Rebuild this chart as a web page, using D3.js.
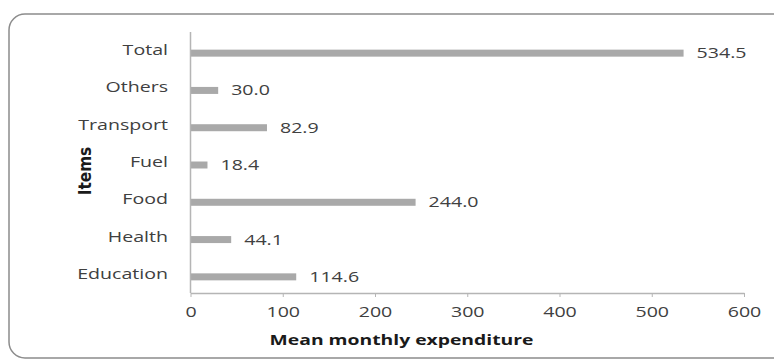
<!DOCTYPE html>
<html>
<head>
<meta charset="utf-8">
<script src="https://cdn.jsdelivr.net/npm/d3@7"></script>
<style>
  body { margin: 0; background: #fff; }
  svg text { font-family: "Open Sans", "DejaVu Sans", sans-serif; fill: #404040; }
</style>
</head>
<body>
<div id="chart"></div>
<script>
var items = ["Education", "Health", "Food", "Fuel", "Transport", "Others", "Total"];
var expenditure = [114.6, 44.1, 244.0, 18.4, 82.9, 30.0, 534.5];
var xTicks = [0, 100, 200, 300, 400, 500, 600];

var width = 774, height = 360;
var plotLeft = 190.5, plotRight = 744, plotTop = 32, plotBottom = 293;
var stretch = 1.4; // the source picture is widened horizontally

var svg = d3.select("#chart").append("svg")
    .attr("width", width)
    .attr("height", height);

// frame
svg.append("rect")
    .attr("x", 9).attr("y", 14)
    .attr("width", 780).attr("height", 344)
    .attr("rx", 16).attr("ry", 16)
    .attr("fill", "none")
    .attr("stroke", "#8c8c8c")
    .attr("stroke-width", 1.5);

var xScale = d3.scaleLinear().domain([0, 600]).range([plotLeft, plotRight]);
var yScale = d3.scaleBand().domain(items.slice().reverse()).range([plotTop + 2.5, plotBottom + 2.5]);

var rows = items.map((d, i) => ({ item: d, value: expenditure[i] }));

svg.selectAll(".bar")
    .data(rows)
    .enter()
    .append("rect")
    .attr("class", "bar")
    .attr("x", xScale(0))
    .attr("y", d => yScale(d.item) + yScale.bandwidth() / 2 - 3.5)
    .attr("width", d => xScale(d.value) - xScale(0))
    .attr("height", 7)
    .attr("fill", "#a9a9a9");

svg.selectAll(".value")
    .data(rows)
    .enter()
    .append("text")
    .attr("class", "value")
    .attr("transform", d => `translate(${xScale(d.value) + 13}, ${yScale(d.item) + yScale.bandwidth() / 2}) scale(${stretch}, 1)`)
    .attr("dy", "0.36em")
    .attr("font-size", 14)
    .text(d => d.value.toFixed(1));

// category labels
svg.selectAll(".cat")
    .data(items)
    .enter()
    .append("text")
    .attr("class", "cat")
    .attr("transform", d => `translate(168, ${yScale(d) + yScale.bandwidth() / 2 - 3}) scale(${stretch}, 1)`)
    .attr("dy", "0.36em")
    .attr("text-anchor", "end")
    .attr("font-size", 14)
    .text(d => d);

// y axis line
svg.append("line")
    .attr("x1", plotLeft).attr("x2", plotLeft)
    .attr("y1", plotTop).attr("y2", plotBottom)
    .attr("stroke", "#b5b5b5")
    .attr("stroke-width", 1.5);

// x axis
var xAxis = d3.axisBottom(xScale).tickValues(xTicks).tickSize(4).tickSizeOuter(0).tickPadding(10);
var gx = svg.append("g")
    .attr("transform", `translate(0, ${plotBottom})`)
    .call(xAxis);
gx.select(".domain").attr("stroke", "#b5b5b5").attr("stroke-width", 1.5);
gx.selectAll(".tick line").attr("stroke", "#b5b5b5");
gx.selectAll(".tick text")
    .attr("font-size", 14)
    .attr("font-family", "\"Open Sans\", sans-serif")
    .attr("fill", "#404040")
    .attr("transform", `scale(${stretch}, 1)`);

svg.append("text")
    .attr("transform", `translate(401.5, 345) scale(1.38, 1)`)
    .attr("text-anchor", "middle")
    .attr("font-size", 14)
    .attr("font-weight", "bold")
    .style("fill", "#1a1a1a")
    .text("Mean monthly expenditure");

svg.append("text")
    .attr("transform", "translate(91, 171) rotate(-90)")
    .attr("text-anchor", "middle")
    .attr("font-size", 17)
    .attr("font-weight", "bold")
    .style("font-family", "\"Liberation Sans Narrow\", \"DejaVu Sans Condensed\", sans-serif")
    .style("fill", "#1a1a1a")
    .text("Items");
</script>
</body>
</html>
